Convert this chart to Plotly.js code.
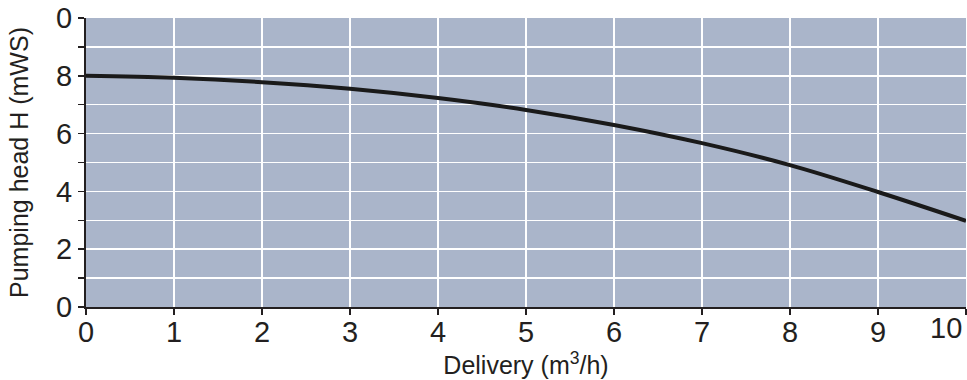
<!DOCTYPE html>
<html><head><meta charset="utf-8">
<script src="https://cdn.plot.ly/plotly-3.0.1.min.js"></script>
<style>html,body{margin:0;padding:0;background:#fff}#chart{width:967px;height:380px}</style>
</head><body><div id="chart"></div>
<script>
const delivery = [0, 1, 2, 3, 4, 5, 6, 7, 8, 9, 10];
const head = [8.0, 7.93, 7.78, 7.55, 7.23, 6.82, 6.3, 5.67, 4.91, 3.98, 2.98];
const xTickVals = [0,1,2,3,4,5,6,7,8,9,10];
const xTickText = ["0","1","2","3","4","5","6","7","8","9",""];
const xLastTickLabel = "10";
const yTickVals = [0,1,2,3,4,5,6,7,8,9,10];
const yTickText = ["0","","2","","4","","6","","8","","0"];

const tickFont = {family: "Liberation Sans Narrow, Liberation Sans, Arial", size: 29, color: "#231f20"};
const titleFont = {family: "Liberation Sans, Arial", size: 25, color: "#231f20"};

Plotly.newPlot("chart", [{
  x: delivery, y: head, type: "scatter", mode: "lines",
  line: {color: "#1a1a1a", width: 4, shape: "spline", smoothing: 1},
  hoverinfo: "none"
}], {
  width: 967, height: 380,
  margin: {l: 86, r: 1, t: 18, b: 73},
  paper_bgcolor: "#ffffff",
  plot_bgcolor: "#aab5ca",
  showlegend: false,
  xaxis: {
    range: [0, 10], tickvals: xTickVals, ticktext: xTickText,
    ticks: "outside", ticklen: 6, tickwidth: 1.5, tickcolor: "#231f20",
    ticklabelstandoff: -8,
    showline: true, linecolor: "#231f20", linewidth: 2,
    showgrid: true, gridcolor: "#ffffff", gridwidth: 1.5,
    zeroline: false, tickfont: tickFont,
    title: {text: "Delivery (m<sup>3</sup>/h)", font: titleFont, standoff: 8},
    automargin: false
  },
  yaxis: {
    range: [0, 10], tickvals: yTickVals, ticktext: yTickText,
    ticks: "outside", ticklen: 6, tickwidth: 1.5, tickcolor: "#231f20",
    showline: true, linecolor: "#231f20", linewidth: 2,
    showgrid: true, gridcolor: "#ffffff", gridwidth: 1.5,
    zeroline: false, tickfont: tickFont,
    title: {text: "Pumping head H (mWS)", font: titleFont, standoff: 20},
    automargin: false
  },
  annotations: [{
    x: 10, xref: "x", y: 0, yref: "paper", yanchor: "top", xanchor: "right",
    yshift: -3, xshift: -2, text: xLastTickLabel, showarrow: false, font: tickFont
  }]
}, {staticPlot: true});
</script></body></html>
